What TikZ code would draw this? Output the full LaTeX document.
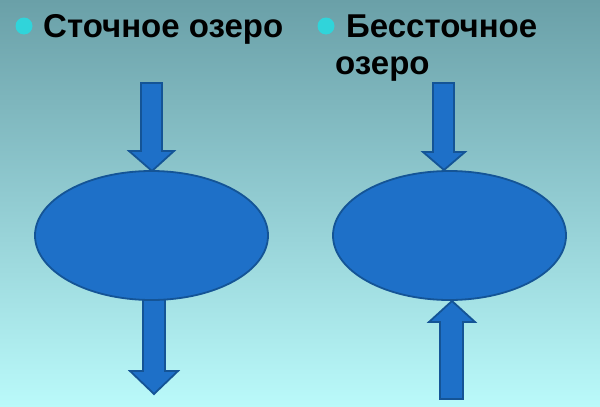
\documentclass[tikz,border=0pt]{standalone}
\usepackage{fontspec}
\setmainfont{Liberation Sans}
\usetikzlibrary{shapes.geometric}
\definecolor{bgtop}{RGB}{106,160,168}
\definecolor{bgmid}{RGB}{146,204,210}
\definecolor{bgbot}{RGB}{186,250,250}
\definecolor{lakefill}{RGB}{30,112,200}
\definecolor{lakeedge}{RGB}{20,84,150}
\definecolor{bulletc}{RGB}{48,212,218}
\tikzset{
  lake/.style={ellipse, fill=lakefill, draw=lakeedge, line width=1.8pt,
    minimum width=233pt, minimum height=129pt, inner sep=0pt},
  blockarrow/.style={fill=lakefill, draw=lakeedge, line width=1.8pt, line join=miter},
  label/.style={font=\bfseries\fontsize{33}{39}\selectfont, text=black, inner sep=0pt},
  bullet/.style={circle, fill=bulletc, minimum size=17pt, inner sep=0pt}
}
\begin{document}
\begin{tikzpicture}[x=1pt,y=-1pt]
\useasboundingbox (0,0) rectangle (600,407);
\shade[top color=bgtop, bottom color=bgbot, middle color=bgmid] (0,0) rectangle (600,407);
% bullets and labels
\node[bullet] (b1) at (24,26) {};
\node[label, anchor=base west] (t1) at (43,37) {Сточное озеро};
\node[bullet] (b2) at (326,26) {};
\node[label, anchor=base west] (t2) at (346,37) {Бессточное};
\node[label, anchor=base west] (t3) at (335,74) {озеро};
% arrows
\draw[blockarrow] (141,83) -- (162,83) -- (162,151) -- (174,151) -- (152,171) -- (129,151) -- (141,151) -- cycle;
\draw[blockarrow] (143,290) -- (165,290) -- (165,371) -- (178,371) -- (154,394) -- (130,371) -- (143,371) -- cycle;
\draw[blockarrow] (433,83) -- (454,83) -- (454,152) -- (465,152) -- (444,170) -- (423,152) -- (433,152) -- cycle;
\draw[blockarrow] (440,399) -- (463,399) -- (463,322) -- (475,322) -- (452,301) -- (429,322) -- (440,322) -- cycle;
% lakes
\node[lake] (l1) at (151.5,235.5) {};
\node[lake] (l2) at (449.5,235.5) {};
\end{tikzpicture}
\end{document}
